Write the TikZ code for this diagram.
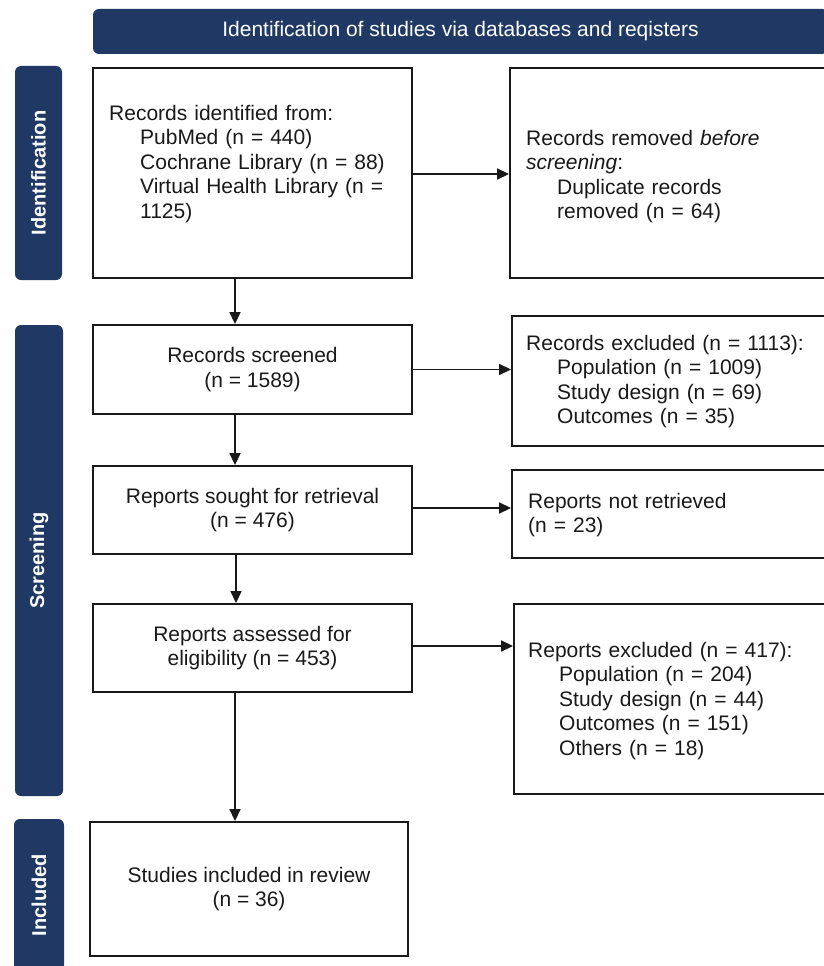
\documentclass[tikz,border=0pt]{standalone}
\usepackage{fontspec}
\setmainfont{Liberation Sans}
\usetikzlibrary{arrows.meta}
\definecolor{navy}{RGB}{31,56,100}
\definecolor{ink}{RGB}{25,25,25}
\begin{document}
\begin{tikzpicture}[x=1pt,y=-1pt,
  box/.style={draw=ink,line width=1.9pt,fill=white,inner sep=0pt},
  ctxt/.style={align=center,font=\fontsize{21}{24.5}\selectfont,text=ink},
  ltxt/.style={anchor=base west,text width=300pt,align=left,inner sep=0pt,font=\fontsize{21}{24.5}\selectfont,text=ink},
  bar/.style={fill=navy,rounded corners=6pt,inner sep=0pt},
  barlbl/.style={text=white,font=\fontsize{20}{24}\selectfont\bfseries,rotate=90},
  arr/.style={draw=ink,line width=1.7pt,-{Triangle[length=12pt,width=11pt]}}
]
\useasboundingbox (0,0) rectangle (823,966);
\fill[white] (0,0) rectangle (823,966);

% header
\node[bar,minimum width=735pt,minimum height=45pt,text=white,font=\fontsize{21}{24}\selectfont] (head) at (460.5,31.5) {Identification of studies via databases and reqisters};

% side bars
\node[bar,minimum width=47pt,minimum height=214pt] (bid) at (38.5,173) {};
\node[barlbl] (lid) at (bid.center) {Identification};
\node[bar,minimum width=48pt,minimum height=471pt] (bscr) at (39,560.5) {};
\node[barlbl] (lscr) at (bscr.center) {Screening};
\node[bar,minimum width=50pt,minimum height=152pt] (binc) at (39,895) {};
\node[barlbl] (linc) at (binc.center) {Included};

% left column
\node[box,minimum width=319pt,minimum height=210pt] (idn) at (252.5,173) {};
\node[ltxt] (idnt) at (109,120) {Records identified from:\\\hspace*{31pt}PubMed (n = 440)\\\hspace*{31pt}Cochrane Library (n = 88)\\\hspace*{31pt}Virtual Health Library (n =\\\hspace*{31pt}1125)};

\node[box,ctxt,minimum width=319pt,minimum height=89pt] (scr) at (252.5,369.5) {Records screened\\(n = 1589)};
\node[box,ctxt,minimum width=319pt,minimum height=88pt] (sou) at (252.5,510) {Reports sought for retrieval\\(n = 476)};
\node[box,ctxt,minimum width=319pt,minimum height=88pt] (ass) at (252.5,648) {Reports assessed for\\eligibility (n = 453)};
\node[box,ctxt,minimum width=318pt,minimum height=134pt] (inc) at (249,889) {Studies included in review\\(n = 36)};

% right column
\node[box,minimum width=330pt,minimum height=210pt] (rem) at (675,173) {};
\node[ltxt] (remt) at (526,145) {Records removed \textit{before}\\\textit{screening}:\\\hspace*{31pt}Duplicate records\\\hspace*{31pt}removed (n = 64)};

\node[box,minimum width=330pt,minimum height=130pt] (exc) at (677,381) {};
\node[ltxt] (exct) at (526,350) {Records excluded (n = 1113):\\\hspace*{31pt}Population (n = 1009)\\\hspace*{31pt}Study design (n = 69)\\\hspace*{31pt}Outcomes (n = 35)};

\node[box,minimum width=330pt,minimum height=88pt] (nre) at (677,514) {};
\node[ltxt] (nret) at (528,508) {Reports not retrieved\\(n = 23)};

\node[box,minimum width=330pt,minimum height=190pt] (rex) at (679,699) {};
\node[ltxt] (rext) at (528,657) {Reports excluded (n = 417):\\\hspace*{31pt}Population (n = 204)\\\hspace*{31pt}Study design (n = 44)\\\hspace*{31pt}Outcomes (n = 151)\\\hspace*{31pt}Others (n = 18)};

% connectors
\draw[arr] ([yshift=-1pt]idn.east) -- ([yshift=-1pt]idn.east -| rem.west);
\draw[arr] (scr.east) -- (scr.east -| exc.west);
\draw[arr] ([yshift=2pt]sou.east) -- ([yshift=2pt]sou.east -| nre.west);
\draw[arr] ([yshift=2pt]ass.east) -- ([yshift=2pt]ass.east -| rex.west);

\draw[arr] ([xshift=-17.5pt]idn.south) -- ([xshift=-17.5pt]idn.south |- scr.north);
\draw[arr] ([xshift=-17.5pt]scr.south) -- ([xshift=-17.5pt]scr.south |- sou.north);
\draw[arr] ([xshift=-16.5pt]sou.south) -- ([xshift=-16.5pt]sou.south |- ass.north);
\draw[arr] ([xshift=-17.5pt]ass.south) -- ([xshift=-17.5pt]ass.south |- inc.north);
\end{tikzpicture}
\end{document}
